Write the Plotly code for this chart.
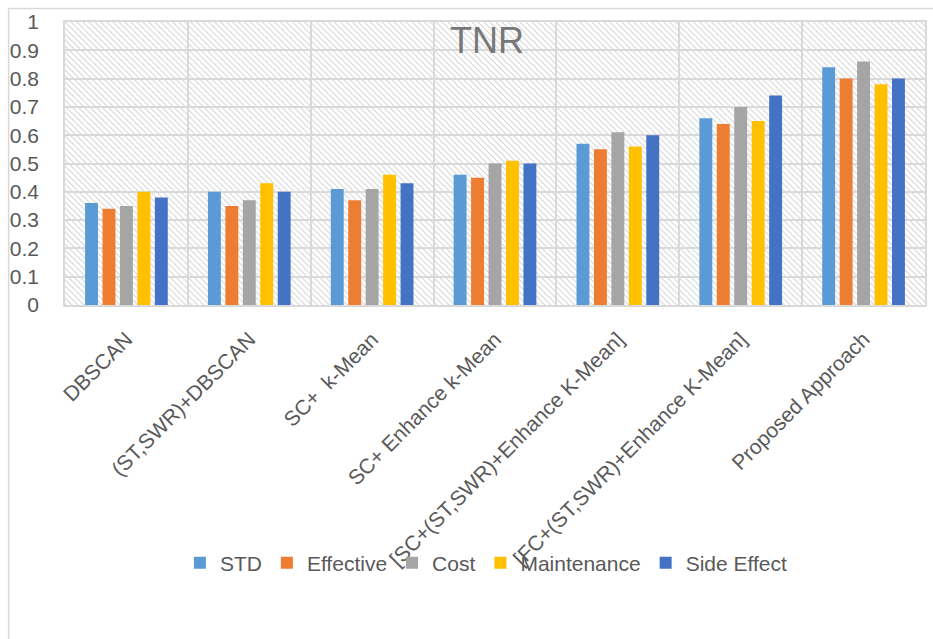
import base64
import plotly.graph_objects as go

# Methods compared (x categories)
methods = [
    "DBSCAN",
    "(ST,SWR)+DBSCAN",
    "SC+\u00a0 k-Mean",
    "SC+ Enhance k-Mean",
    "[SC+(ST,SWR)+Enhance K-Mean]",
    "[FC+(ST,SWR)+Enhance K-Mean]",
    "Proposed Approach",
]

# TNR per criterion
std = [0.36, 0.40, 0.41, 0.46, 0.57, 0.66, 0.84]
effective = [0.34, 0.35, 0.37, 0.45, 0.55, 0.64, 0.80]
cost = [0.35, 0.37, 0.41, 0.50, 0.61, 0.70, 0.86]
maintenance = [0.40, 0.43, 0.46, 0.51, 0.56, 0.65, 0.78]
side_effect = [0.38, 0.40, 0.43, 0.50, 0.60, 0.74, 0.80]

series = [
    ("STD", std, "#5B9BD5"),
    ("Effective", effective, "#ED7D31"),
    ("Cost", cost, "#A5A5A5"),
    ("Maintenance", maintenance, "#FFC000"),
    ("Side Effect", side_effect, "#4472C4"),
]

W, H = 933, 639
ML, MR, MT, MB = 65, 6, 22, 334
PW, PH = W - ML - MR, H - MT - MB

# diagonal hatch used as the plot-area background
hatch_svg = f"""<svg xmlns='http://www.w3.org/2000/svg' width='{PW}' height='{PH}'>
<defs><pattern id='h' width='6' height='6' patternUnits='userSpaceOnUse'>
<path d='M-1,-1 L7,7 M-1,5 L1,7 M5,-1 L7,1' stroke='#d6d6d6' stroke-width='1.1'/>
</pattern></defs>
<rect width='100%' height='100%' fill='white'/>
<rect width='100%' height='100%' fill='url(#h)'/>
</svg>"""
hatch_uri = "data:image/svg+xml;base64," + base64.b64encode(hatch_svg.encode()).decode()

fig = go.Figure()
for name, vals, color in series:
    fig.add_trace(go.Bar(name=name, x=methods, y=vals, marker_color=color,
                         marker_line_width=0))

grid = "#d9d9d9"
font_family = "Liberation Sans, Arial, sans-serif"

fig.update_layout(
    width=W, height=H,
    margin=dict(l=ML, r=MR, t=MT, b=MB),
    paper_bgcolor="white",
    plot_bgcolor="rgba(0,0,0,0)",
    barmode="group",
    bargap=0.29,
    bargroupgap=0.26,
    title=dict(text="TNR", x=0.522, xref="container", xanchor="center",
               y=1 - 40 / H, yref="container", yanchor="middle",
               font=dict(family=font_family, size=36, color="#777777")),
    xaxis=dict(
        tickangle=-45, tickfont=dict(family=font_family, size=21, color="#595959"),
        tickson="boundaries", ticklabelstandoff=12,
        showgrid=True, gridcolor=grid, gridwidth=1.5,
        showline=True, linecolor=grid, linewidth=1.5, mirror=True,
        ticks="", ticklen=0,
    ),
    yaxis=dict(
        range=[0, 1], dtick=0.1,
        tickfont=dict(family=font_family, size=21, color="#595959"),
        showgrid=True, gridcolor=grid, gridwidth=1.5,
        showline=True, linecolor=grid, linewidth=1.5, mirror=True,
        zeroline=False, ticks="", ticklabelstandoff=20,
    ),
    legend=dict(
        orientation="h", x=0.49, xanchor="center", y=-0.912, yanchor="middle",
        bgcolor="rgba(0,0,0,0)",
        font=dict(family=font_family, size=21, color="#595959"),
        itemwidth=30,
    ),
    images=[dict(source=hatch_uri, xref="paper", yref="paper", x=0, y=1,
                 sizex=1, sizey=1, xanchor="left", yanchor="top",
                 sizing="stretch", layer="below")],
    shapes=[dict(type="rect", xref="paper", yref="paper",
                 x0=(8.5 - ML) / PW, x1=(W + 20 - ML) / PW,
                 y0=(PH - (8.5 - MT)) / PH, y1=-(MB + 20) / PH,
                 line=dict(color="#d9d9d9", width=1.5), layer="below")],
)

fig.write_html("out.html")
